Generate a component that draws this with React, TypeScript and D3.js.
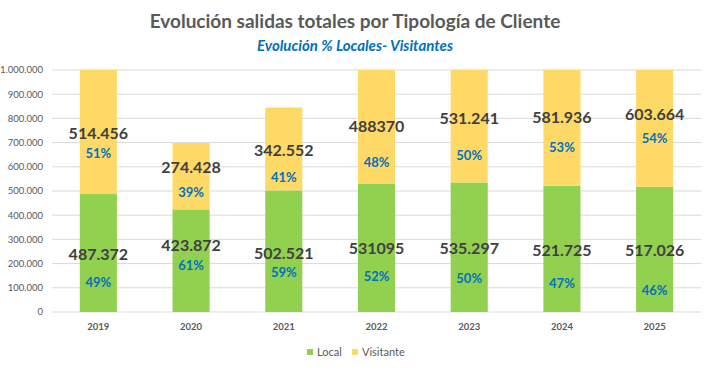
import React from "react";
import * as d3 from "d3";

const years = ["2019", "2020", "2021", "2022", "2023", "2024", "2025"];
const local = [487372, 423872, 502521, 531095, 535297, 521725, 517026];
const visitante = [514456, 274428, 342552, 488370, 531241, 581936, 603664];
const localText = ["487.372", "423.872", "502.521", "531095", "535.297", "521.725", "517.026"];
const visitanteText = ["514.456", "274.428", "342.552", "488370", "531.241", "581.936", "603.664"];
// where the labels sit, in data units (hand placed in the original)
const localLabelAt = [240000, 277000, 244000, 264000, 264000, 256000, 256000];
const localPctAt = [124000, 194000, 165000, 145000, 140000, 116000, 87000];
const visLabelAt = [740000, 599000, 669000, 769000, 798000, 806000, 818000];
const visPctAt = [657000, 492000, 558000, 616000, 645000, 682000, 719000];
const yTicks = [0, 100000, 200000, 300000, 400000, 500000, 600000, 700000, 800000, 900000, 1000000];

const width = 710;
const height = 370;
const margin = { top: 70, right: 9, bottom: 58, left: 52 };
const font = "Lato, 'Open Sans', sans-serif";
const green = "#92D050";
const yellow = "#FFD966";

const fmt = (v: number) => d3.format(",")(v).replace(/,/g, ".");

export default function App() {
  const rows = years.map((y, i) => ({ year: y, Local: local[i], Visitante: visitante[i] }));
  const stack = d3.stack<any>().keys(["Local", "Visitante"])(rows);

  const x = d3
    .scaleBand()
    .domain(years)
    .range([margin.left, width - margin.right])
    .paddingInner(0.6)
    .paddingOuter(0.3);
  const y = d3
    .scaleLinear()
    .domain([0, 1000000])
    .range([height - margin.bottom, margin.top])
    .clamp(true);

  const colors = [green, yellow];
  const cx = (yr: string) => (x(yr) as number) + x.bandwidth() / 2;

  return (
    <svg
      width={width}
      height={height}
      style={{ position: "absolute", left: 0, top: 0, background: "#fff" }}
      fontFamily={font}
    >
      <text x={355} y={28} textAnchor="middle" fontSize={19} fontWeight={700} fill="#595959">
        Evolución salidas totales por Tipología de Cliente
      </text>
      <text x={355} y={51} textAnchor="middle" fontSize={15} fontWeight={700} fontStyle="italic" fill="#0070C0">
        Evolución % Locales- Visitantes
      </text>

      {yTicks.map((t) => (
        <g key={t}>
          <line
            x1={margin.left}
            x2={width - margin.right}
            y1={y(t)}
            y2={y(t)}
            stroke="#D9D9D9"
            strokeWidth={1}
          />
          <text x={43} y={y(t)} dy="0.35em" textAnchor="end" fontSize={9.5} fill="#595959">
            {fmt(t)}
          </text>
        </g>
      ))}

      {stack.map((s, si) => (
        <g key={s.key} fill={colors[si]}>
          {s.map((d, i) => (
            <rect
              key={years[i]}
              x={x(years[i])}
              width={x.bandwidth()}
              y={y(d[1])}
              height={y(d[0]) - y(d[1])}
            />
          ))}
        </g>
      ))}

      {years.map((yr, i) => {
        const total = local[i] + visitante[i];
        const lp = Math.round((local[i] / total) * 100);
        const vp = Math.round((visitante[i] / total) * 100);
        return (
          <g key={yr} textAnchor="middle" fontWeight={700}>
            <text x={cx(yr)} y={y(localLabelAt[i])} dy="0.35em" fontSize={16} fill="#404040">
              {localText[i]}
            </text>
            <text x={cx(yr)} y={y(localPctAt[i])} dy="0.35em" fontSize={13} fill="#0070C0">
              {lp}%
            </text>
            <text x={cx(yr)} y={y(visLabelAt[i])} dy="0.35em" fontSize={16} fill="#404040">
              {visitanteText[i]}
            </text>
            <text x={cx(yr)} y={y(visPctAt[i])} dy="0.35em" fontSize={13} fill="#0070C0">
              {vp}%
            </text>
            <text x={cx(yr)} y={327} dy="0.35em" fontSize={9.5} fill="#595959">
              {yr}
            </text>
          </g>
        );
      })}

      <g fontSize={11} fill="#595959">
        <rect x={307} y={349} width={6} height={6} fill={green} />
        <text x={317} y={352} dy="0.35em">Local</text>
        <rect x={352} y={349} width={6} height={6} fill={yellow} />
        <text x={362} y={352} dy="0.35em">Visitante</text>
      </g>
    </svg>
  );
}
